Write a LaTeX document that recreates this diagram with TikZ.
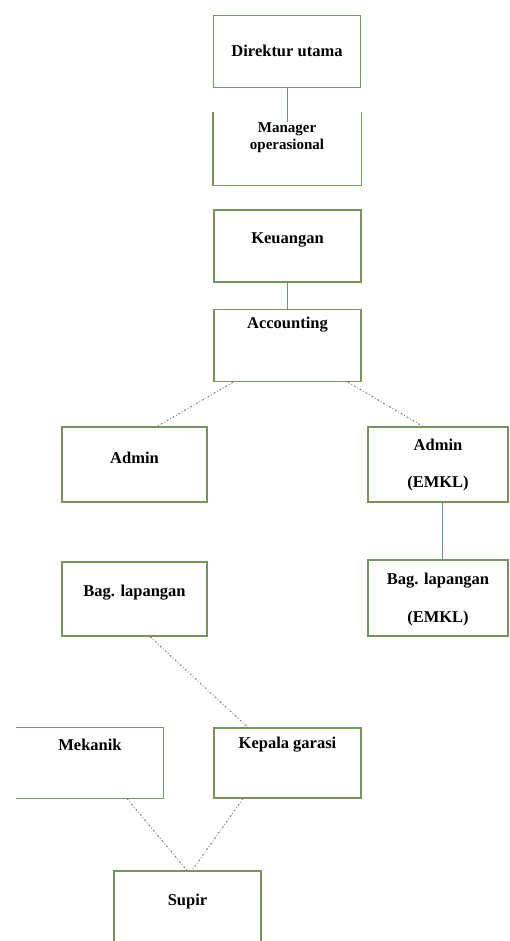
\documentclass[tikz,border=0pt]{standalone}
\usepackage{fontspec}
\setmainfont{Liberation Serif}
\definecolor{boxline}{RGB}{122,146,92}
\definecolor{solidline}{RGB}{112,138,150}
\definecolor{dotline}{RGB}{120,120,120}
\begin{document}
\begin{tikzpicture}[x=1pt,y=-1pt,
  box/.style={draw=boxline, line width=1.1pt, rectangle, inner sep=0pt, minimum width=147pt, minimum height=72pt},
  openbox/.style={box, draw=none},
  edge/.style={draw=boxline, line width=1.1pt},
  lbl/.style={font=\fontsize{16.5}{18}\selectfont\bfseries, inner sep=0pt, align=center, text=black},
  solidcon/.style={draw=solidline, line width=1pt},
  dotcon/.style={draw=dotline, line width=0.9pt, dash pattern=on 2pt off 2pt on 0.8pt off 2pt}]
\clip (0,0) rectangle (509,941);
\fill[white] (0,0) rectangle (509,941);
% boxes
\node[box] (dir) at (287,51.5) {};
\node[openbox] (mgr) at (287,149) {};
\draw[edge] (mgr.north west) -- (mgr.south west) -- (mgr.south east) -- (mgr.north east);
\node[box, line width=1.6pt] (keu) at (287.5,246) {};
\node[box, line width=1.4pt] (acc) at (287.5,345.5) {};
\node[box, minimum width=145pt, minimum height=75pt] (adm) at (134.5,464.5) {};
\node[box, minimum width=140pt, minimum height=75pt] (admE) at (438,464.5) {};
\node[box, minimum width=145pt, minimum height=74pt, line width=1.4pt] (bag) at (134.5,599) {};
\node[box, minimum width=140pt, minimum height=76pt, line width=1.4pt] (bagE) at (438,598) {};
\node[openbox, minimum width=146pt, minimum height=70pt] (mek) at (90,763) {};
\draw[edge] (mek.north west) -- (mek.north east) -- (mek.south east) -- (mek.south west);
\node[box, minimum height=70pt] (kep) at (287.5,763) {};
\node[box, minimum height=80pt] (sup) at (187.5,911) {};
% labels
\node[lbl] (tdir) at (287,51) {Direktur utama};
\node[lbl, font=\fontsize{15}{17}\selectfont\bfseries] (tmgr) at (287,138) {Manager\\operasional};
\node[lbl] (tkeu) at (287.5,240) {Keuangan};
\node[lbl] (tacc) at (287.5,325) {Accounting};
\node[lbl] (tadm) at (134.5,458) {Admin};
\node[lbl, align=center] (tadmE) at (438,465) {Admin\\[19pt](EMKL)};
\node[lbl] (tbag) at (134.5,593) {Bag. lapangan};
\node[lbl, align=center] (tbagE) at (438,600) {Bag. lapangan\\[20pt](EMKL)};
\node[lbl] (tmek) at (90,745) {Mekanik};
\node[lbl] (tkep) at (287.5,745) {Kepala garasi};
\node[lbl] (tsup) at (187.5,902) {Supir};
% connectors
\draw[solidcon] (dir.south) -- ([yshift=-10pt]mgr.north);
\draw[solidcon] (keu.south) -- (acc.north);
\draw[solidcon] (admE.south -| 442,0) -- (bagE.north -| 442,0);
\draw[dotcon] ([xshift=-54.5pt]acc.south) -- ([xshift=22.5pt]adm.north);
\draw[dotcon] ([xshift=60.5pt]acc.south) -- ([xshift=-15pt]admE.north);
\draw[dotcon] ([xshift=15.5pt]bag.south) -- ([xshift=-39.5pt]kep.north);
\draw[dotcon] ([xshift=37pt]mek.south) -- ([xshift=-0.5pt]sup.north);
\draw[dotcon] ([xshift=-44.5pt]kep.south) -- ([xshift=4.5pt]sup.north);
\end{tikzpicture}
\end{document}
